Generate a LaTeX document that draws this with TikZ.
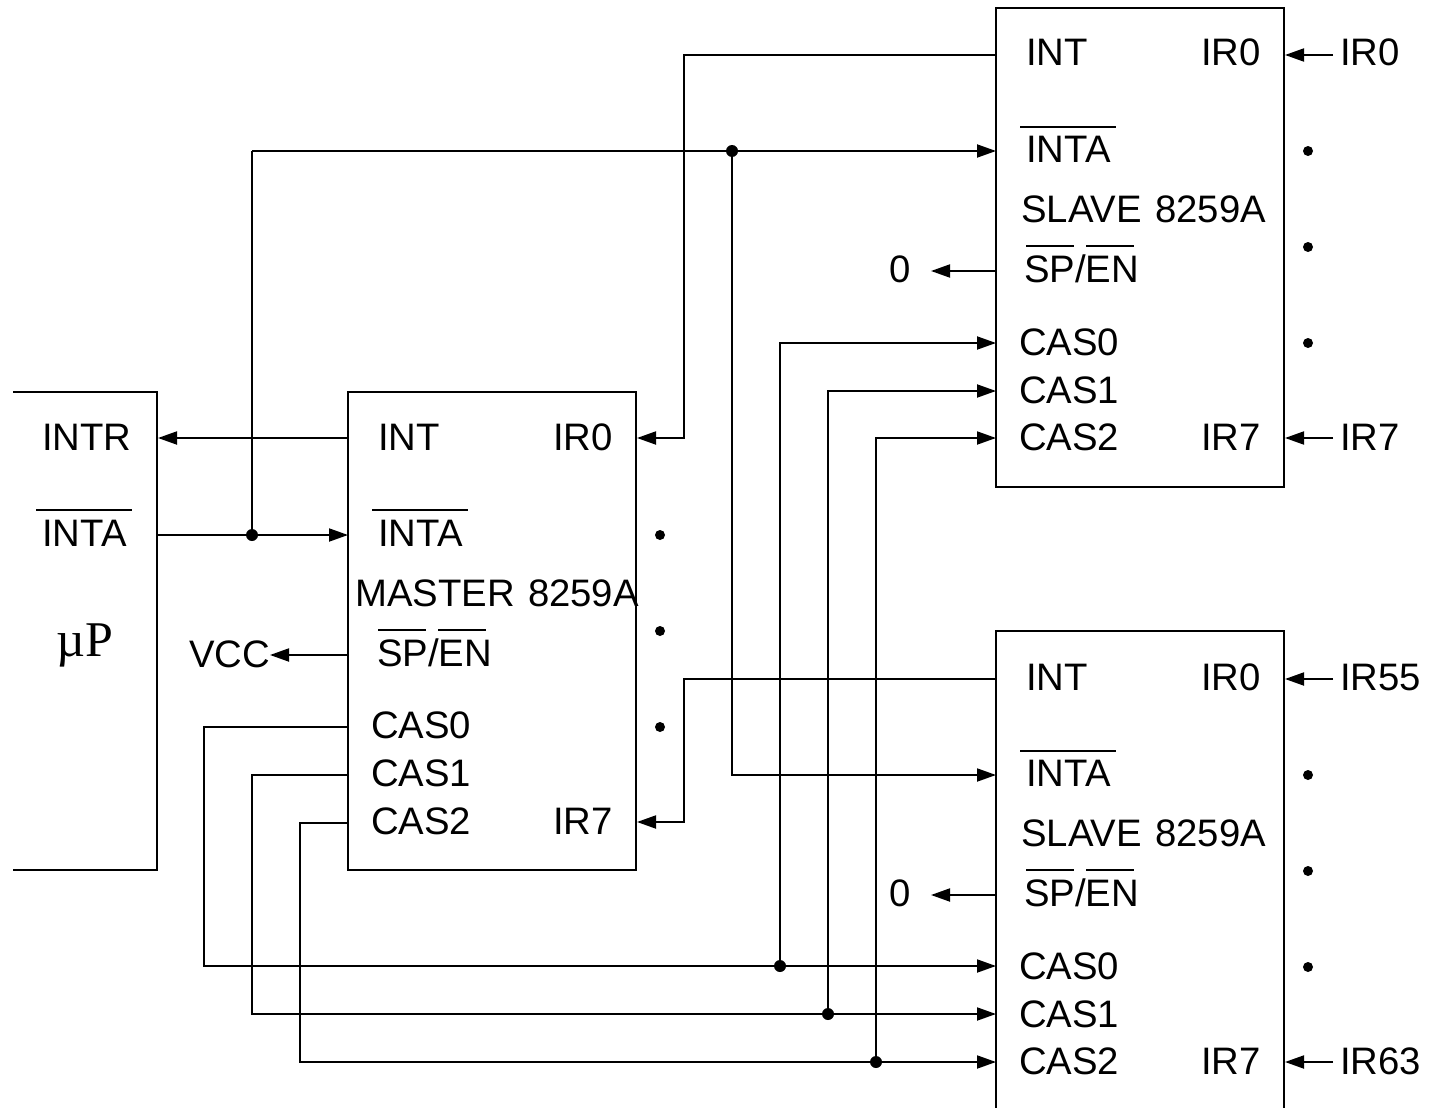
\documentclass[tikz,border=0pt]{standalone}
\usepackage{fontspec}
\setmainfont[WordSpace=1.25]{Liberation Sans}
\newfontfamily\upfont{Liberation Serif}
\usetikzlibrary{arrows.meta}
\tikzset{
  wire/.style={line width=1.9pt,line join=miter},
  arrowwire/.style={wire,-{Triangle[length=19pt,width=13pt]}},
  chipbox/.style={line width=1.9pt,line join=miter},
  lbl/.style={anchor=base west,inner sep=0pt,font=\fontsize{38.3}{38.3}\selectfont,text=black},
  bar/.style={line width=1.7pt},
  junction/.style={circle,fill=black,inner sep=0pt,minimum size=12pt},
  pdot/.style={circle,fill=black,inner sep=0pt,minimum size=10pt}
}
% one slave chip: #1 name prefix, #2 vertical offset, #3 IR0 input, #4 IR7 input
\newcommand{\slavechip}[4]{%
  \begin{scope}[shift={(0,#2)}]
    \node[lbl] (#1int) at (1026,66) {INT};
    \node[lbl] (#1irz) at (1201,66) {IR0};
    \node[lbl] (#1inta) at (1026,162) {INTA};
    \node[lbl] (#1name) at (1021,222) {SLAVE 8259A};
    \node[lbl] (#1sp) at (1024,282) {SP/EN};
    \node[lbl] (#1caz) at (1019,355.5) {CAS0};
    \node[lbl] (#1cay) at (1019,403) {CAS1};
    \node[lbl] (#1cax) at (1019,450) {CAS2};
    \node[lbl] (#1irs) at (1201,450) {IR7};
    \node[lbl] (#1inz) at (1340,66) {#3};
    \node[lbl] (#1ins) at (1340,450) {#4};
    \node[lbl] (#1zero) at (889,282) {0};
    \draw[bar] (1020,127) -- (1116,127);
    \draw[bar] (1026,246) -- (1074,246);
    \draw[bar] (1086,246) -- (1134,246);
    \node[pdot] (#1da) at (1308,151) {};
    \node[pdot] (#1db) at (1308,247) {};
    \node[pdot] (#1dc) at (1308,343) {};
    \coordinate (#1pint) at (996,55);
    \coordinate (#1pinta) at (996,151);
    \coordinate (#1psp) at (996,271);
    \coordinate (#1pcax) at (996,438);
    \coordinate (#1pirz) at (1285,55);
    \coordinate (#1pirs) at (1285,438);
    \coordinate (#1fz) at (1333,55);
    \coordinate (#1fs) at (1333,438);
    \coordinate (#1fo) at (931,271);
    \draw[arrowwire] (#1fz) -- (#1pirz);
    \draw[arrowwire] (#1fs) -- (#1pirs);
    \draw[arrowwire] (#1psp) -- (#1fo);
  \end{scope}}
\begin{document}
\begin{tikzpicture}[x=1pt,y=-1pt]
\useasboundingbox (0,0) rectangle (1433,1108);
% boxes
\draw[chipbox] (13,392) -- (157,392) -- (157,870) -- (13,870);
\draw[chipbox] (348,392) rectangle (636,870);
\draw[chipbox] (996,8) rectangle (1284,487);
\draw[chipbox] (996,1108) -- (996,631) -- (1284,631) -- (1284,1108);
% processor
\node[lbl] (cpuintr) at (42,450) {INTR};
\node[lbl] (cpuinta) at (42,546) {INTA};
\draw[bar] (36,510) -- (132,510);
\node[lbl,font=\upfont\fontsize{50}{50}\selectfont] (cpuname) at (56,656) {\char"00B5 P};
% master
\node[lbl] (mint) at (378,450) {INT};
\node[lbl] (mirz) at (553,450) {IR0};
\node[lbl] (minta) at (378,546) {INTA};
\draw[bar] (372,510) -- (468,510);
\node[lbl] (mname) at (355,606) {MASTER 8259A};
\node[lbl] (msp) at (377,666) {SP/EN};
\draw[bar] (378,630) -- (426,630);
\draw[bar] (438,630) -- (486,630);
\node[lbl] (mcaz) at (371,738) {CAS0};
\node[lbl] (mcay) at (371,786) {CAS1};
\node[lbl] (mcax) at (371,834) {CAS2};
\node[lbl] (mirs) at (553,834) {IR7};
\node[lbl] (vcc) at (189,667) {VCC};
\node[pdot] (mda) at (660,535) {};
\node[pdot] (mdb) at (660,631) {};
\node[pdot] (mdc) at (660,727) {};
% slaves
\slavechip{a}{0}{IR0}{IR7}
\slavechip{b}{624}{IR55}{IR63}
% pins
\coordinate (apcaz) at (996,343);
\coordinate (apcay) at (996,391);
\coordinate (bpcaz) at (996,966);
\coordinate (bpcay) at (996,1014);
\coordinate (cpupintr) at (158,438);
\coordinate (cpupinta) at (157,535);
\coordinate (mpint) at (348,438);
\coordinate (mpinta) at (348,535);
\coordinate (mpsp) at (348,655);
\coordinate (vccend) at (270,655);
\coordinate (mpirz) at (637,438);
\coordinate (mpirs) at (637,822);
\coordinate (mpcaz) at (348,727);
\coordinate (mpcay) at (348,775);
\coordinate (mpcax) at (348,823);
\coordinate (ia) at (684,438);
\coordinate (ib) at (684,822);
\coordinate (ja) at (252,151);
\coordinate (ca) at (204,727);
\coordinate (cb) at (252,775);
\coordinate (cc) at (300,823);
% junctions
\node[junction] (jcpu) at (252,535) {};
\node[junction] (jtop) at (732,151) {};
\node[junction] (jz) at (780,966) {};
\node[junction] (jy) at (828,1014) {};
\node[junction] (jx) at (876,1062) {};
% connectors
\draw[arrowwire] (mpint) -- (cpupintr);
\draw[arrowwire] (cpupinta) -- (mpinta);
\draw[arrowwire] (mpsp) -- (vccend);
\draw[wire] (jcpu.center) -- (ja);
\draw[arrowwire] (ja) -- (apinta);
\draw[arrowwire] (jtop.center) |- (bpinta);
\draw[arrowwire] (apint) -| (ia) -- (mpirz);
\draw[arrowwire] (bpint) -| (ib) -- (mpirs);
\draw[arrowwire] (mpcaz) -- (ca) |- (bpcaz);
\draw[arrowwire] (mpcay) -- (cb) |- (bpcay);
\draw[arrowwire] (mpcax) -- (cc) |- (bpcax);
\draw[arrowwire] (jz.center) |- (apcaz);
\draw[arrowwire] (jy.center) |- (apcay);
\draw[arrowwire] (jx.center) |- (apcax);
\end{tikzpicture}
\end{document}
